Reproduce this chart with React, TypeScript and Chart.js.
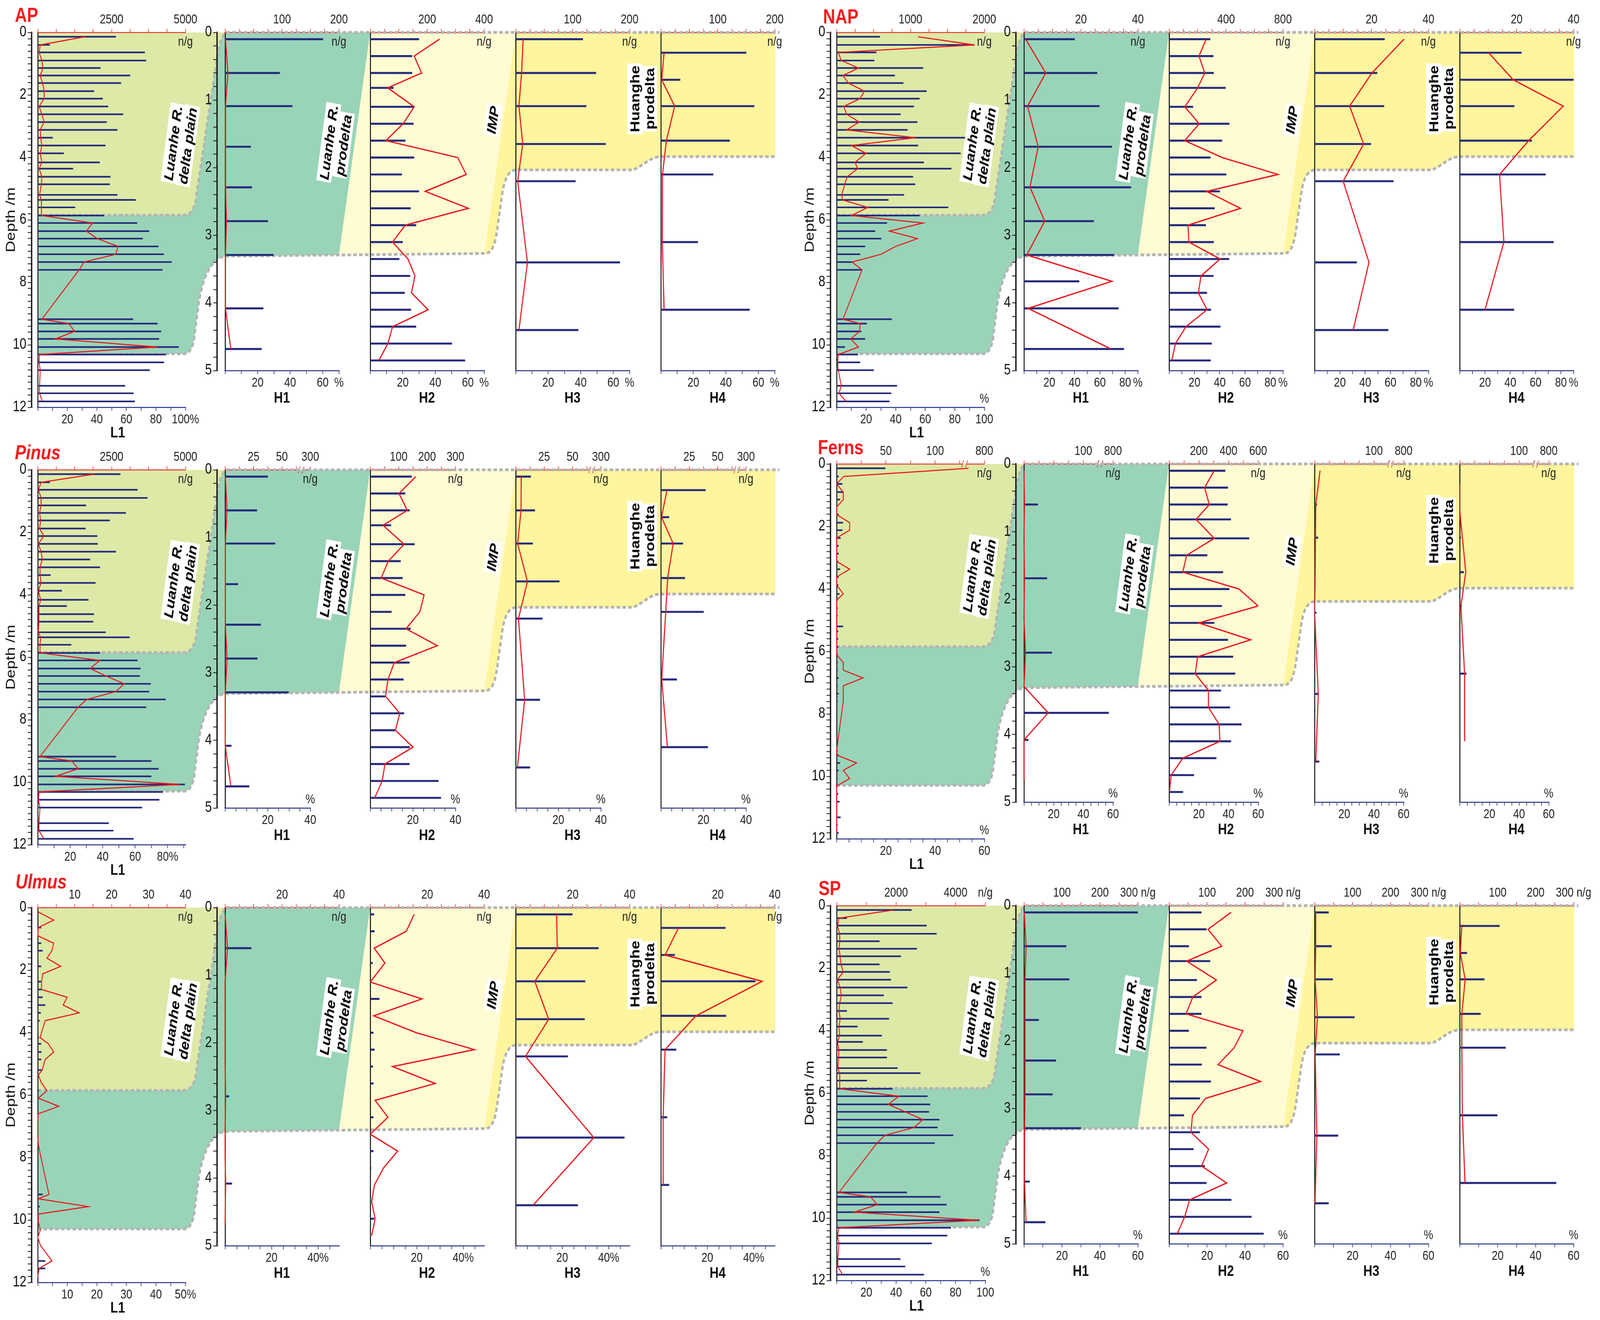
import React, { useEffect, useRef } from 'react';
import { Chart, registerables } from 'chart.js';

Chart.register(...registerables);

const PAGE_W = 4961;
const PAGE_H = 3380;
const NUM_FONT = '"Liberation Sans", Arial, Helvetica, sans-serif';
const TXT_FONT = '"Liberation Sans", Arial, Helvetica, sans-serif';
const NAVY = '#242b7c';
const RED = '#e8171e';
const AXIS_RED = '#e53935';
const AXIS_BLUE = '#2a3187';
const C_PLAIN = '#dde9a7';
const C_GREEN = '#99d4b8';
const C_IMP = '#fffbd3';
const C_YEL = '#fff59e';
const C_DASH = '#b4b4b4';

// ---------------- sample depths (m) ----------------
const depthL1 = [0.14, 0.4, 0.64, 0.9, 1.14, 1.38, 1.62, 1.88, 2.12, 2.37, 2.62, 2.87, 3.12, 3.37, 3.62, 3.87, 4.16, 4.36, 4.62, 4.86, 5.2, 5.36, 5.6, 5.86, 6.1, 6.36, 6.6, 6.85, 7.1, 7.35, 7.6, 9.18, 9.32, 9.57, 9.81, 10.07, 10.31, 10.56, 10.81, 11.31, 11.55, 11.81];
const depthH1 = [0.1, 0.6, 1.09, 1.69, 2.29, 2.79, 3.29, 3.68, 4.08, 4.68];
const depthH2 = [0.1, 0.35, 0.6, 0.82, 1.1, 1.35, 1.6, 1.85, 2.1, 2.35, 2.6, 2.85, 3.1, 3.35, 3.6, 3.85, 4.1, 4.35, 4.6, 4.85];
const depthH3 = [0.1, 0.6, 1.09, 1.65, 2.2, 3.4, 4.4];
const depthH4 = [0.3, 0.7, 1.09, 1.6, 2.1, 3.1, 4.1];

// ---------------- AP ----------------
const apL1Conc = [2642, 406, 3622, 3668, 2121, 3124, 2818, 1907, 2198, 2381, 2887, 2335, 2695, 505, 2289, 881, 2098, 1194, 2458, 2435, 2695, 3315, 1263, 2244, 3361, 3767, 3553, 4081, 4265, 4533, 4219, 3224, 4051, 4173, 4104, 4770, 4334, 4273, 3790, 2956, 3239, 3285];
const apL1Pct = [31.9, 1.7, 0.9, 2.8, 3.5, 1.7, 3.2, 4.4, 4.3, 0.9, 2.8, 4.3, 1.7, 2.0, 2.8, 1.7, 2.8, 0.9, 2.8, 2.5, 1.2, 2.5, 2.5, 2.5, 37.2, 32.9, 40.3, 54.4, 52.8, 31.4, 28.0, 2.8, 21.1, 25.0, 11.9, 80.9, 1.2, 0.9, 1.7, 1.2, 1.2, 3.2];
const apH1Conc = [172, 96, 118, 45, 47, 75, 85, 0, 67, 64];
const apH1Pct = [0.2, 1.7, 0.2, 0.2, 0.3, 0.8, 0.2, 0.2, 0.2, 3.5];
const apH2Conc = [171, 147, 147, 82, 153, 152, 123, 154, 111, 171, 142, 161, 114, 102, 140, 121, 143, 161, 287, 333];
const apH2Pct = [42.6, 27.0, 31.6, 10.8, 27.0, 20.2, 9.6, 53.8, 59.0, 33.8, 60.3, 21.5, 13.7, 23.2, 27.5, 25.3, 35.6, 13.7, 10.8, 5.3];
const apH3Conc = [118, 141, 124, 158, 105, 183, 110];
const apH3Pct = [4.6, 3.6, 2.0, 4.3, 1.2, 7.2, 2.0];
const apH4Conc = [150, 34, 164, 121, 92, 65, 156];
const apH4Pct = [2.0, 0.5, 8.5, 3.4, 1.0, 0.9, 2.0];

// ---------------- NAP ----------------
const napL1Conc = [585, 1865, 537, 511, 1170, 788, 903, 1218, 1122, 1045, 865, 1093, 961, 1743, 1103, 1678, 1180, 1553, 1035, 1064, 913, 701, 1511, 1122, 682, 521, 604, 386, 318, 206, 344, 746, 408, 334, 386, 113, 289, 318, 502, 817, 739, 714];
const napL1Pct = [55.0, 93.2, 1.1, 3.2, 14.8, 4.3, 7.9, 18.8, 15.8, 4.8, 6.8, 15.3, 6.8, 53.4, 10.0, 19.9, 12.4, 14.3, 7.2, 5.5, 3.5, 3.9, 21.2, 10.0, 58.5, 35.7, 54.7, 40.0, 30.1, 10.5, 17.2, 4.3, 15.9, 15.6, 9.5, 14.8, 1.1, 0.6, 1.1, 3.2, 1.6, 6.4];
const napH1Conc = [17.8, 25.7, 26.5, 30.9, 37.6, 24.5, 31.6, 19.4, 33.2, 35.1];
const napH1Pct = [1.3, 17.2, 2.8, 11.2, 4.7, 16.4, 2.2, 69.5, 3.2, 68.8];
const napH2Conc = [288, 311, 313, 397, 168, 423, 372, 290, 401, 356, 319, 258, 313, 421, 311, 266, 294, 360, 299, 292];
const napH2Pct = [29.3, 23.6, 28.2, 22.5, 12.4, 23.8, 12.4, 41.9, 86.1, 29.6, 56.4, 14.9, 15.6, 40.3, 25.2, 23.1, 30.0, 13.3, 5.0, 2.1];
const napH3Conc = [24.6, 22.0, 24.4, 19.8, 27.7, 14.8, 25.9];
const napH3Pct = [70.7, 45.3, 27.7, 38.8, 22.6, 43.0, 30.5];
const napH4Conc = [21.7, 40.0, 19.2, 25.3, 30.2, 33.0, 19.1];
const napH4Pct = [22.8, 42.3, 81.8, 54.5, 31.5, 34.9, 20.0];

// ---------------- Pinus ----------------
const pinusL1Conc = [2795, 406, 3377, 3714, 1631, 2979, 2435, 1616, 2014, 2029, 2642, 1769, 2106, 429, 1953, 812, 1715, 980, 1899, 1876, 2297, 3109, 1133, 2106, 3377, 3476, 3453, 3821, 3767, 4326, 3668, 2642, 3844, 4089, 3844, 4977, 4234, 4112, 3530, 2404, 2557, 3239];
const pinusL1Pct = [34.8, 2.1, 0.4, 2.1, 2.1, 1.1, 1.8, 1.1, 3.8, 0.3, 2.1, 2.8, 1.4, 1.4, 2.1, 0.3, 1.8, 0.7, 0.7, 0.7, 0.3, 1.8, 1.4, 1.4, 38.3, 32.3, 42.1, 53.3, 48.0, 30.2, 24.8, 1.4, 21.0, 25.0, 10.9, 87.7, 0.8, 0.4, 1.4, 0.7, 0.7, 3.8];
const pinusH1Conc = [37.6, 28.0, 44.1, 11.4, 31.4, 28.4, 55.9, 0, 5.5, 21.2];
const pinusH1Pct = [0.1, 0.9, 0.1, 0.1, 0.1, 0.9, 0.1, 0, 0.1, 2.7];
const pinusH2Conc = [146, 123, 139, 73, 156, 107, 114, 123, 75, 142, 126, 138, 117, 52, 119, 87, 139, 138, 240, 249];
const pinusH2Pct = [21.4, 13.5, 17.4, 6.0, 15.9, 8.5, 5.1, 25.3, 23.3, 16.8, 31.5, 11.3, 8.3, 7.2, 13.9, 11.8, 20.1, 6.9, 5.6, 2.1];
const pinusH3Conc = [13.3, 16.9, 15.0, 38.5, 23.5, 21.3, 12.6];
const pinusH3Pct = [2.6, 2.5, 0.9, 5.5, 1.3, 4.2, 0.8];
const pinusH4Conc = [39.4, 7.3, 19.5, 21.2, 37.7, 14.1, 41.4];
const pinusH4Pct = [2.9, 0.3, 5.8, 3.2, 2.3, 0.4, 3.1];

// ---------------- Ferns ----------------
const fernsL1Conc = [49.5, 2, 5.8, 6.5, 3.4, 0.5, 2, 6.5, 5.8, 4, 2, 2, 1.5, 3.4, 2, 1.5, 2.9, 1, 1, 1, 6.5, 1.5, 1.5, 1.5, 1, 1, 1, 2, 1, 2, 1, 1, 2, 3.4, 2, 1, 1, 1.5, 2.9, 4, 1, 2];
const fernsL1Pct = [53.6, 2.9, 0, 2.7, 2.7, 0, 0, 5.3, 5.3, 0, 0, 0, 0, 5.3, 0, 0, 2.7, 0, 0, 0, 0, 0, 0, 0, 0, 2.7, 2.7, 10.7, 2.7, 2.7, 2.7, 0, 0, 8.1, 2.7, 5.3, 0, 0, 0, 0, 0, 0];
const fernsH1Conc = [0, 23.2, 0, 38.8, 0, 47.2, 0, 142.8, 7.2, 0];
const fernsH1Pct = [0, 0.3, 0, 0.3, 0, 1.0, 0, 16.3, 0, 0];
const fernsH2Conc = [378, 396, 394, 416, 539, 257, 363, 406, 355, 304, 396, 431, 445, 349, 410, 488, 417, 318, 167, 94];
const fernsH2Pct = [30.4, 23.9, 27.1, 18.2, 30.4, 11.8, 9.2, 47.1, 60.0, 20.0, 54.9, 19.2, 17.6, 26.5, 26.5, 33.7, 34.3, 9.2, 1.4, 0.2];
const fernsH3Conc = [0, 3.9, 5.9, 1.5, 2.9, 5.9, 7.8];
const fernsH3Pct = [3.7, 0.8, 0.6, 0.4, 0, 2.5, 0.8];
const fernsH4Conc = [0, 0, 2, 6.9, 3.4, 11.3, 0.5];
const fernsH4Pct = [0, 0, 1.8, 4.1, 0.8, 3.3, 3.3];

// ---------------- Ulmus ----------------
const ulmusL1Conc = [0, 0.2, 0.9, 0, 0.9, 1.3, 0, 0.9, 0, 0.9, 0.9, 1.3, 2.0, 0.8, 0.5, 0, 0.3, 0.9, 1.0, 0.9, 1.0, 0.3, 0, 0.3, 0, 0, 0, 0, 0, 0, 0, 1.3, 0, 0.5, 0, 0, 0, 0, 0, 2.0, 2.0, 0];
const ulmusL1Pct = [0.2, 5.4, 0.2, 0, 5.4, 4.8, 3.1, 7.8, 1.7, 1.3, 1.3, 10.0, 8.6, 14.0, 2.5, 1.7, 0.8, 3.6, 5.4, 2.5, 1.5, 0.2, 1.2, 3.1, 0.2, 7.1, 0.2, 0, 0, 0, 0.2, 3.8, 0.2, 17.1, 0.2, 0.2, 0.9, 0, 0.9, 4.8, 0.5, 0];
const ulmusH1Conc = [0, 9.2, 0, 0, 0, 1.4, 0, 0, 2.4, 0];
const ulmusH1Pct = [0, 1.0, 0, 0, 0, 0.2, 0, 0, 0.2, 0];
const ulmusH2Conc = [1.3, 1.5, 0, 0.8, 0, 3.2, 0, 1.1, 1.5, 0.9, 1.1, 0, 1.1, 0, 1.1, 0.3, 0, 0, 1.3, 0];
const ulmusH2Pct = [18.9, 15.5, 1.7, 6.3, 0, 22.2, 1.5, 19.8, 44.8, 9.6, 27.9, 2.1, 7.6, 0, 11.8, 5.7, 1.8, 0.6, 2.1, 0.6];
const ulmusH3Conc = [19.9, 29.1, 24.4, 24.2, 18.3, 38.2, 21.8];
const ulmusH3Pct = [17.6, 17.9, 8.2, 14.2, 4.2, 33.6, 7.5];
const ulmusH4Conc = [22.7, 4.9, 33.2, 22.9, 5.4, 2.2, 2.9];
const ulmusH4Pct = [7.6, 1.8, 43.6, 15.1, 1.8, 1.0, 1.0];

// ---------------- SP ----------------
const spL1Conc = [2520, 344, 3024, 3360, 1440, 2696, 2160, 1440, 1784, 1824, 2376, 1584, 1880, 344, 1760, 704, 1520, 880, 1688, 1688, 2048, 2816, 1016, 1880, 3056, 3144, 3104, 3456, 3392, 3920, 3296, 2360, 3488, 3696, 3456, 4800, 3840, 3720, 3200, 2144, 2304, 2936];
const spL1Pct = [38.2, 1.6, 0.5, 2.1, 2.1, 1.6, 2.4, 2.9, 4.5, 0.5, 2.4, 3.2, 2.1, 1.6, 2.4, 1.6, 2.1, 0.5, 1.6, 1.3, 0.8, 2.1, 2.1, 2.1, 41.9, 34.7, 46.2, 58.1, 52.1, 32.6, 27.1, 1.6, 22.8, 27.4, 11.9, 95.5, 1.6, 0.5, 1.6, 0.8, 0.8, 4.0];
const spH1Conc = [301, 111, 119, 39, 84, 75, 150, 0, 15, 56];
const spH1Pct = [0.1, 1.1, 0.5, 0.5, 0.5, 0.5, 0.3, 0.2, 0.3, 1.1];
const spH2Conc = [85, 98, 52, 108, 73, 85, 85, 52, 98, 86, 110, 81, 39, 81, 64, 94, 98, 164, 217, 249];
const spH2Pct = [32.6, 20.5, 27.7, 9.2, 24.9, 12.5, 8.9, 38.9, 34.3, 25.8, 48.2, 19.2, 12.3, 11.5, 20.8, 17.1, 30.3, 10.8, 8.2, 4.3];
const spH3Conc = [37, 45, 48, 105, 66, 62, 37];
const spH3Pct = [0.6, 0.6, 0.3, 1.5, 0.3, 1.2, 0.2];
const spH4Conc = [105, 19, 65, 55, 121, 99, 254];
const spH4Pct = [1.1, 0.3, 2.9, 1.1, 1.1, 1.4, 2.8];

// ---------------- tick labels [value, text] ----------------
const apL1Top: [number, string][] = [[2500, '2500'], [5000, '5000']];
const apL1Bot: [number, string][] = [[20, '20'], [40, '40'], [60, '60'], [80, '80'], [100, '100%']];
const apH200Top: [number, string][] = [[100, '100'], [200, '200']];
const apH400Top: [number, string][] = [[200, '200'], [400, '400']];
const apHBot: [number, string][] = [[20, '20'], [40, '40'], [60, '60'], [70, '%']];
const napL1Top: [number, string][] = [[1000, '1000'], [2000, '2000']];
const napL1Bot: [number, string][] = [[20, '20'], [40, '40'], [60, '60'], [80, '80'], [100, '100']];
const napH40Top: [number, string][] = [[20, '20'], [40, '40']];
const napH800Top: [number, string][] = [[400, '400'], [800, '800']];
const napHBot: [number, string][] = [[20, '20'], [40, '40'], [60, '60'], [80, '80'], [90, '%']];
const pinusL1Top: [number, string][] = [[2500, '2500'], [5000, '5000']];
const pinusL1Bot: [number, string][] = [[20, '20'], [40, '40'], [60, '60'], [80, '80%']];
const pinusHBrkTop: [number, string][] = [[25, '25'], [50, '50'], [75, '300']];
const pinusH2Top: [number, string][] = [[100, '100'], [200, '200'], [300, '300']];
const pinusHBot: [number, string][] = [[20, '20'], [40, '40']];
const fernsL1Top: [number, string][] = [[50, '50'], [100, '100'], [150, '800']];
const fernsL1Bot: [number, string][] = [[20, '20'], [40, '40'], [60, '60']];
const fernsHBrkTop: [number, string][] = [[100, '100'], [150, '800']];
const fernsH2Top: [number, string][] = [[200, '200'], [400, '400'], [600, '600']];
const fernsHBot: [number, string][] = [[20, '20'], [40, '40'], [60, '60']];
const ulmusL1Top: [number, string][] = [[10, '10'], [20, '20'], [30, '30'], [40, '40']];
const ulmusL1Bot: [number, string][] = [[10, '10'], [20, '20'], [30, '30'], [40, '40'], [50, '50%']];
const ulmusHTop: [number, string][] = [[20, '20'], [40, '40']];
const ulmusHBot: [number, string][] = [[20, '20'], [40, '40%']];
const spL1Top: [number, string][] = [[2000, '2000'], [4000, '4000'], [5000, 'n/g']];
const spL1Bot: [number, string][] = [[20, '20'], [40, '40'], [60, '60'], [80, '80'], [100, '100']];
const spHTop: [number, string][] = [[100, '100'], [200, '200'], [300, '300 n/g']];
const spHBot: [number, string][] = [[20, '20'], [40, '40'], [60, '60']];

// ---------------- layout / configuration ----------------
type Ax = { max: number; step: number; labels: [number, string][]; brk?: number };
type PanelDef = { conc: number[]; pct: number[]; c: Ax; p: Ax; pctAbove?: boolean; ngBelow?: boolean };
type GroupDef = { title: string; italic: boolean; x0: number; y0: number; tdx: number; tby: number; l1W: number; hW: number; panels: PanelDef[] };

const groups: GroupDef[] = [
  {
    title: 'AP', italic: false, x0: 117, y0: 83, tdx: -71, tby: -27, l1W: 458, hW: 353,
    panels: [
      { conc: apL1Conc, pct: apL1Pct, c: { max: 5000, step: 625, labels: apL1Top }, p: { max: 100, step: 10, labels: apL1Bot }, ngBelow: true },
      { conc: apH1Conc, pct: apH1Pct, c: { max: 200, step: 25, labels: apH200Top }, p: { max: 70, step: 10, labels: apHBot }, ngBelow: true },
      { conc: apH2Conc, pct: apH2Pct, c: { max: 400, step: 50, labels: apH400Top }, p: { max: 70, step: 10, labels: apHBot }, ngBelow: true },
      { conc: apH3Conc, pct: apH3Pct, c: { max: 200, step: 25, labels: apH200Top }, p: { max: 70, step: 10, labels: apHBot }, ngBelow: true },
      { conc: apH4Conc, pct: apH4Pct, c: { max: 200, step: 25, labels: apH200Top }, p: { max: 70, step: 10, labels: apHBot }, ngBelow: true },
    ],
  },
  {
    title: 'NAP', italic: false, x0: 2594, y0: 83, tdx: -42, tby: -23, l1W: 458, hW: 353,
    panels: [
      { conc: napL1Conc, pct: napL1Pct, c: { max: 2000, step: 250, labels: napL1Top }, p: { max: 100, step: 10, labels: napL1Bot }, ngBelow: true, pctAbove: true },
      { conc: napH1Conc, pct: napH1Pct, c: { max: 40, step: 5, labels: napH40Top }, p: { max: 90, step: 10, labels: napHBot }, ngBelow: true },
      { conc: napH2Conc, pct: napH2Pct, c: { max: 800, step: 100, labels: napH800Top }, p: { max: 90, step: 10, labels: napHBot }, ngBelow: true },
      { conc: napH3Conc, pct: napH3Pct, c: { max: 40, step: 5, labels: napH40Top }, p: { max: 90, step: 10, labels: napHBot }, ngBelow: true },
      { conc: napH4Conc, pct: napH4Pct, c: { max: 40, step: 5, labels: napH40Top }, p: { max: 90, step: 10, labels: napHBot }, ngBelow: true },
    ],
  },
  {
    title: 'Pinus', italic: true, x0: 117, y0: 1203, tdx: -71, tby: -27, l1W: 458, hW: 264,
    panels: [
      { conc: pinusL1Conc, pct: pinusL1Pct, c: { max: 5000, step: 625, labels: pinusL1Top }, p: { max: 91, step: 10, labels: pinusL1Bot }, ngBelow: true },
      { conc: pinusH1Conc, pct: pinusH1Pct, c: { max: 75, step: 12.5, labels: pinusHBrkTop, brk: 67 }, p: { max: 40, step: 5, labels: pinusHBot }, ngBelow: true, pctAbove: true },
      { conc: pinusH2Conc, pct: pinusH2Pct, c: { max: 300, step: 50, labels: pinusH2Top }, p: { max: 40, step: 5, labels: pinusHBot }, ngBelow: true, pctAbove: true },
      { conc: pinusH3Conc, pct: pinusH3Pct, c: { max: 75, step: 12.5, labels: pinusHBrkTop, brk: 67 }, p: { max: 40, step: 5, labels: pinusHBot }, ngBelow: true, pctAbove: true },
      { conc: pinusH4Conc, pct: pinusH4Pct, c: { max: 75, step: 12.5, labels: pinusHBrkTop, brk: 67 }, p: { max: 40, step: 5, labels: pinusHBot }, ngBelow: true, pctAbove: true },
    ],
  },
  {
    title: 'Ferns', italic: false, x0: 2594, y0: 1188, tdx: -58, tby: -25, l1W: 458, hW: 276,
    panels: [
      { conc: fernsL1Conc, pct: fernsL1Pct, c: { max: 150, step: 25, labels: fernsL1Top, brk: 130 }, p: { max: 60, step: 5, labels: fernsL1Bot }, ngBelow: true, pctAbove: true },
      { conc: fernsH1Conc, pct: fernsH1Pct, c: { max: 150, step: 25, labels: fernsHBrkTop, brk: 128 }, p: { max: 60, step: 5, labels: fernsHBot }, ngBelow: true, pctAbove: true },
      { conc: fernsH2Conc, pct: fernsH2Pct, c: { max: 600, step: 100, labels: fernsH2Top }, p: { max: 60, step: 5, labels: fernsHBot }, ngBelow: true, pctAbove: true },
      { conc: fernsH3Conc, pct: fernsH3Pct, c: { max: 150, step: 25, labels: fernsHBrkTop, brk: 128 }, p: { max: 60, step: 5, labels: fernsHBot }, ngBelow: true, pctAbove: true },
      { conc: fernsH4Conc, pct: fernsH4Pct, c: { max: 150, step: 25, labels: fernsHBrkTop, brk: 128 }, p: { max: 60, step: 5, labels: fernsHBot }, ngBelow: true, pctAbove: true },
    ],
  },
  {
    title: 'Ulmus', italic: true, x0: 117, y0: 2324, tdx: -69, tby: -49, l1W: 458, hW: 353,
    panels: [
      { conc: ulmusL1Conc, pct: ulmusL1Pct, c: { max: 40, step: 5, labels: ulmusL1Top }, p: { max: 50, step: 5, labels: ulmusL1Bot }, ngBelow: true },
      { conc: ulmusH1Conc, pct: ulmusH1Pct, c: { max: 40, step: 5, labels: ulmusHTop }, p: { max: 49, step: 5, labels: ulmusHBot }, ngBelow: true },
      { conc: ulmusH2Conc, pct: ulmusH2Pct, c: { max: 40, step: 5, labels: ulmusHTop }, p: { max: 49, step: 5, labels: ulmusHBot }, ngBelow: true },
      { conc: ulmusH3Conc, pct: ulmusH3Pct, c: { max: 40, step: 5, labels: ulmusHTop }, p: { max: 49, step: 5, labels: ulmusHBot }, ngBelow: true },
      { conc: ulmusH4Conc, pct: ulmusH4Pct, c: { max: 40, step: 5, labels: ulmusHTop }, p: { max: 49, step: 5, labels: ulmusHBot }, ngBelow: true },
    ],
  },
  {
    title: 'SP', italic: false, x0: 2594, y0: 2319, tdx: -56, tby: -27, l1W: 461, hW: 353,
    panels: [
      { conc: spL1Conc, pct: spL1Pct, c: { max: 5000, step: 1000, labels: spL1Top }, p: { max: 100, step: 10, labels: spL1Bot }, pctAbove: true },
      { conc: spH1Conc, pct: spH1Pct, c: { max: 300, step: 50, labels: spHTop }, p: { max: 60, step: 10, labels: spHBot }, pctAbove: true },
      { conc: spH2Conc, pct: spH2Pct, c: { max: 300, step: 50, labels: spHTop }, p: { max: 60, step: 10, labels: spHBot }, pctAbove: true },
      { conc: spH3Conc, pct: spH3Pct, c: { max: 300, step: 50, labels: spHTop }, p: { max: 60, step: 10, labels: spHBot }, pctAbove: true },
      { conc: spH4Conc, pct: spH4Pct, c: { max: 300, step: 50, labels: spHTop }, p: { max: 60, step: 10, labels: spHBot }, pctAbove: true },
    ],
  },
];

const KINDS = [
  { name: 'L1', depths: depthL1, dMax: 12, dMajor: 2, areaH: 960, zero: 0, gap: 19 },
  { name: 'H1', depths: depthH1, dMax: 5, dMajor: 1, areaH: 866, zero: 581, gap: 25 },
  { name: 'H2', depths: depthH2, dMax: 5, dMajor: 1, areaH: 866, zero: 1031, gap: 0 },
  { name: 'H3', depths: depthH3, dMax: 5, dMajor: 1, areaH: 866, zero: 1482, gap: 0 },
  { name: 'H4', depths: depthH4, dMax: 5, dMajor: 1, areaH: 866, zero: 1932, gap: 0 },
];

const TOP_H = 54;
const BOT_H = 54;
const PAD_R = 80;

type Sub = {
  key: string; depths: number[]; conc: number[]; pct: number[]; dMax: number; dMajor: number;
  c: Ax; p: Ax; gap: number; plotW: number; areaH: number; hasY: boolean; yW: number; padL: number;
  cx: number; cy: number; cw: number; ch: number; lineW: number; barW: number;
};

const subs: Sub[] = [];
groups.forEach((g) => {
  g.panels.forEach((p, k) => {
    const K = KINDS[k];
    const plotW = k === 0 ? g.l1W : g.hW;
    const hasY = K.gap > 0;
    const yW = hasY ? 70 : 0;
    const padL = hasY ? 30 : 15;
    const areaLeft = Math.round(g.x0 + K.zero - K.gap);
    subs.push({
      key: g.title + K.name, depths: K.depths, conc: p.conc, pct: p.pct, dMax: K.dMax, dMajor: K.dMajor,
      c: p.c, p: p.p, gap: K.gap, plotW, areaH: K.areaH, hasY, yW, padL,
      cx: areaLeft - yW - padL, cy: g.y0 - TOP_H, cw: padL + yW + K.gap + plotW + PAD_R, ch: TOP_H + K.areaH + BOT_H,
      lineW: k === 0 ? 2.8 : 3.4, barW: k === 0 ? 3.5 : 4.5,
    });
  });
});

function tickList(max: number, step: number, labels: [number, string][]) {
  const vals: number[] = [];
  const n = Math.floor(max / step + 1e-6);
  for (let i = 0; i <= n; i++) vals.push(Math.round(i * step * 1000) / 1000);
  labels.forEach(([v]) => { if (!vals.some((x) => Math.abs(x - v) < 1e-6)) vals.push(v); });
  vals.sort((a, b) => a - b);
  return vals.map((value) => ({ value }));
}
function labelFor(labels: [number, string][], v: number) {
  const f = labels.find(([lv]) => Math.abs(lv - v) < 1e-6);
  return f ? f[1] : '';
}

const panelFix = {
  id: 'panelfix',
  afterDraw(chart: any, _args: any, opts: any) {
    const ctx = chart.ctx;
    const area = chart.chartArea;
    const xc = chart.scales.xc;
    if (opts && opts.gap) {
      const zx = xc.getPixelForValue(0);
      const w = zx - area.left - 5;
      if (w > 0) {
        ctx.clearRect(area.left + 3, area.top - 3, w, 6);
        ctx.clearRect(area.left + 3, area.bottom - 3, w, 6);
      }
    }
    if (opts && opts.brk != null) {
      const x = xc.getPixelForValue(opts.brk);
      const y = area.top;
      ctx.save();
      ctx.clearRect(x - 5, y - 3, 10, 6);
      ctx.strokeStyle = AXIS_RED;
      ctx.lineWidth = 2;
      ctx.beginPath();
      ctx.moveTo(x - 9, y + 9); ctx.lineTo(x - 3, y - 9);
      ctx.moveTo(x + 3, y + 9); ctx.lineTo(x + 9, y - 9);
      ctx.stroke();
      ctx.restore();
    }
  },
};

function makeConfig(s: Sub): any {
  const cMin = s.gap ? (-s.c.max * s.gap) / s.plotW : 0;
  const pMin = s.gap ? (-s.p.max * s.gap) / s.plotW : 0;
  return {
    type: 'bar',
    data: {
      datasets: [
        {
          type: 'bar', label: 'n/g', data: s.depths.map((d, i) => ({ x: s.conc[i], y: d })),
          xAxisID: 'xc', yAxisID: 'y', indexAxis: 'y', backgroundColor: NAVY, borderWidth: 0,
          barThickness: s.barW, order: 2,
        },
        {
          type: 'line', label: '%', data: s.depths.map((d, i) => ({ x: s.pct[i], y: d })),
          xAxisID: 'xp', yAxisID: 'y', indexAxis: 'y', borderColor: RED, backgroundColor: RED,
          borderWidth: s.lineW, pointRadius: 0, tension: 0, fill: false, order: 1,
        },
      ],
    },
    options: {
      responsive: false, maintainAspectRatio: false, animation: false, events: [], indexAxis: 'y',
      layout: { padding: { left: s.padL, right: PAD_R, top: 0, bottom: 0 } },
      plugins: { legend: { display: false }, tooltip: { enabled: false }, panelfix: { gap: s.gap > 0, brk: s.c.brk } },
      scales: {
        y: {
          type: 'linear', position: 'left', reverse: true, min: 0, max: s.dMax, offset: false, display: s.hasY,
          afterBuildTicks: (sc: any) => {
            const t: any[] = [];
            const n = Math.round(s.dMax / 0.2);
            for (let i = 0; i <= n; i++) t.push({ value: Math.round(i * 0.2 * 1000) / 1000 });
            sc.ticks = t;
          },
          afterFit: (sc: any) => { sc.width = s.yW; sc.paddingTop = 0; sc.paddingBottom = 0; },
          ticks: {
            autoSkip: false, padding: 4, color: '#111', font: { size: 38, family: NUM_FONT },
            callback: (v: number) => {
              const r = v / s.dMajor;
              return Math.abs(r - Math.round(r)) < 1e-6 ? String(Math.round(v)) : '';
            },
          },
          grid: { drawOnChartArea: false, offset: false, tickLength: 12, tickWidth: 2, tickColor: '#111' },
          border: { display: true, color: '#111', width: 4 },
        },
        xc: {
          type: 'linear', position: 'top', min: cMin, max: s.c.max, beginAtZero: false,
          afterBuildTicks: (sc: any) => { sc.ticks = tickList(s.c.max, s.c.step, s.c.labels); },
          afterFit: (sc: any) => { sc.height = TOP_H; sc.paddingLeft = 0; sc.paddingRight = 0; },
          ticks: {
            autoSkip: false, maxRotation: 0, minRotation: 0, padding: 3, color: '#222',
            font: { size: 33, family: NUM_FONT }, callback: (v: number) => labelFor(s.c.labels, v),
          },
          grid: { drawOnChartArea: false, tickLength: 9, tickWidth: 2, tickColor: AXIS_RED },
          border: { display: true, color: AXIS_RED, width: 2.5 },
        },
        xp: {
          type: 'linear', position: 'bottom', min: pMin, max: s.p.max, beginAtZero: false,
          afterBuildTicks: (sc: any) => { sc.ticks = tickList(s.p.max, s.p.step, s.p.labels); },
          afterFit: (sc: any) => { sc.height = BOT_H; sc.paddingLeft = 0; sc.paddingRight = 0; },
          ticks: {
            autoSkip: false, maxRotation: 0, minRotation: 0, padding: 3, color: '#222',
            font: { size: 33, family: NUM_FONT }, callback: (v: number) => labelFor(s.p.labels, v),
          },
          grid: {
            drawOnChartArea: true,
            color: (ctx: any) => (ctx.tick && Math.abs(ctx.tick.value) < 1e-9 ? '#111' : 'rgba(0,0,0,0)'),
            lineWidth: (ctx: any) => (ctx.tick && Math.abs(ctx.tick.value) < 1e-9 ? 3 : 1),
            tickLength: 9, tickWidth: 2, tickColor: AXIS_BLUE,
          },
          border: { display: true, color: AXIS_BLUE, width: 2.5 },
        },
      },
    },
    plugins: [panelFix],
  };
}

function SubChart({ s }: { s: Sub }) {
  const ref = useRef<HTMLCanvasElement>(null);
  useEffect(() => {
    const chart = new Chart(ref.current as HTMLCanvasElement, makeConfig(s));
    return () => chart.destroy();
  }, [s]);
  return (
    <canvas
      ref={ref}
      width={s.cw}
      height={s.ch}
      style={{ position: 'absolute', left: s.cx, top: s.cy, width: s.cw, height: s.ch }}
    />
  );
}

// ---------------- background regions (relative to group origin) ----------------
function upperPath(ctx: CanvasRenderingContext2D) {
  ctx.lineTo(452, 468);
  ctx.quadraticCurveTo(488, 468, 493, 410);
  ctx.lineTo(557, 60);
  ctx.quadraticCurveTo(568, 0, 590, 0);
}
function lowerLeftPath(ctx: CanvasRenderingContext2D) {
  ctx.lineTo(452, 823);
  ctx.quadraticCurveTo(482, 823, 487, 770);
  ctx.lineTo(498, 700);
  ctx.bezierCurveTo(506, 650, 530, 575, 585, 573);
}
function lowerRightPath(ctx: CanvasRenderingContext2D) {
  ctx.lineTo(1387, 566);
  ctx.bezierCurveTo(1410, 566, 1420, 540, 1427, 490);
  ctx.lineTo(1440, 415);
  ctx.bezierCurveTo(1448, 370, 1462, 352, 1485, 352);
  ctx.lineTo(1840, 352);
  ctx.bezierCurveTo(1865, 352, 1895, 318, 1932, 318);
  ctx.lineTo(2287, 318);
}

function drawBackground(ctx: CanvasRenderingContext2D) {
  groups.forEach((g) => {
    ctx.save();
    ctx.translate(g.x0, g.y0);
    ctx.fillStyle = C_PLAIN;
    ctx.beginPath(); ctx.moveTo(0, 0); ctx.lineTo(0, 468); upperPath(ctx); ctx.closePath(); ctx.fill();
    ctx.fillStyle = C_GREEN;
    ctx.beginPath(); ctx.moveTo(0, 468); upperPath(ctx);
    ctx.lineTo(1031, 0); ctx.lineTo(934, 570); ctx.lineTo(585, 573);
    ctx.bezierCurveTo(530, 575, 506, 650, 498, 700);
    ctx.lineTo(487, 770); ctx.quadraticCurveTo(482, 823, 452, 823); ctx.lineTo(0, 823);
    ctx.closePath(); ctx.fill();
    ctx.fillStyle = C_IMP;
    ctx.beginPath(); ctx.moveTo(1031, 0); ctx.lineTo(1482, 0); ctx.lineTo(1385, 566); ctx.lineTo(934, 570); ctx.closePath(); ctx.fill();
    ctx.fillStyle = C_YEL;
    ctx.beginPath(); ctx.moveTo(1482, 0); ctx.lineTo(2287, 0); ctx.lineTo(2287, 318); ctx.lineTo(1932, 318);
    ctx.bezierCurveTo(1895, 318, 1865, 352, 1840, 352); ctx.lineTo(1485, 352);
    ctx.bezierCurveTo(1462, 352, 1448, 370, 1440, 415); ctx.lineTo(1427, 490);
    ctx.bezierCurveTo(1420, 540, 1410, 566, 1387, 566); ctx.lineTo(1385, 566);
    ctx.closePath(); ctx.fill();
    ctx.strokeStyle = C_DASH; ctx.lineWidth = 7; ctx.setLineDash([11, 7]);
    ctx.beginPath(); ctx.moveTo(0, 468); upperPath(ctx); ctx.stroke();
    ctx.beginPath(); ctx.moveTo(0, 823); lowerLeftPath(ctx); lowerRightPath(ctx); ctx.stroke();
    ctx.restore();
  });
}
function drawForeground(ctx: CanvasRenderingContext2D) {
  groups.forEach((g) => {
    ctx.save();
    ctx.translate(g.x0, g.y0);
    ctx.strokeStyle = C_DASH; ctx.lineWidth = 7; ctx.setLineDash([11, 7]);
    ctx.beginPath(); ctx.moveTo(585, 0); ctx.lineTo(2300, 0); ctx.stroke();
    ctx.restore();
  });
}

function RegionLabel({ x, y, lines, italic, rot }: { x: number; y: number; lines: string[]; italic: boolean; rot: number }) {
  return (
    <div
      style={{
        position: 'absolute', left: x, top: y, transform: `translate(-50%, -50%) rotate(${rot}deg)`,
        display: 'flex', flexDirection: 'column', alignItems: 'center', whiteSpace: 'nowrap',
        fontFamily: TXT_FONT, fontWeight: 'bold', fontStyle: italic ? 'italic' : 'normal', fontSize: 40,
        lineHeight: '46px', color: '#000',
      }}
    >
      {lines.map((l) => (
        <span key={l} style={{ background: '#fff', padding: '0 5px' }}>{l}</span>
      ))}
    </div>
  );
}

export default function App() {
  const bgRef = useRef<HTMLCanvasElement>(null);
  const fgRef = useRef<HTMLCanvasElement>(null);
  useEffect(() => {
    const b = bgRef.current?.getContext('2d');
    if (b) { b.clearRect(0, 0, PAGE_W, PAGE_H); drawBackground(b); }
    const f = fgRef.current?.getContext('2d');
    if (f) { f.clearRect(0, 0, PAGE_W, PAGE_H); drawForeground(f); }
  }, []);

  const vw = typeof window !== 'undefined' && window.innerWidth ? window.innerWidth : PAGE_W;
  const vh = typeof window !== 'undefined' && window.innerHeight ? window.innerHeight : PAGE_H;
  const sx = Math.min(1, vw / PAGE_W);
  const sy = Math.min(1, vh / PAGE_H);

  const labels: any[] = [];
  groups.forEach((g) => {
    const t = g.title;
    labels.push(
      <div key={t + 'title'} style={{
        position: 'absolute', left: g.x0 + g.tdx, top: g.y0 + g.tby - 44, fontFamily: TXT_FONT, fontWeight: 'bold',
        fontStyle: g.italic ? 'italic' : 'normal', fontSize: 52, lineHeight: '52px', color: '#f51b1f', whiteSpace: 'nowrap',
      }}>{t}</div>
    );
    labels.push(
      <div key={t + 'depth'} style={{
        position: 'absolute', left: g.x0 - 85, top: g.y0 + 480, transform: 'translate(-50%, -50%) rotate(-90deg)',
        fontFamily: TXT_FONT, fontSize: 41, lineHeight: '41px', color: '#111', whiteSpace: 'nowrap',
      }}>Depth /m</div>
    );
    KINDS.forEach((K, k) => {
      const isL = k === 0;
      const cxl = isL ? g.x0 + 248 : g.x0 + K.zero + 176;
      const cyl = isL ? g.y0 + 1023 : g.y0 + 934;
      labels.push(
        <div key={t + K.name + 'lab'} style={{
          position: 'absolute', left: cxl, top: cyl, transform: 'translate(-50%, -50%)', fontFamily: TXT_FONT,
          fontWeight: 'bold', fontSize: 39, lineHeight: '39px', color: '#111', whiteSpace: 'nowrap',
        }}>{K.name}</div>
      );
      const p = g.panels[k];
      const plotW = isL ? g.l1W : g.hW;
      const endX = g.x0 + K.zero + plotW;
      if (p.ngBelow) {
        labels.push(
          <div key={t + K.name + 'ng'} style={{
            position: 'absolute', left: endX, top: g.y0 + 6, transform: 'translateX(-50%)', fontFamily: NUM_FONT,
            fontSize: 33, lineHeight: '33px', color: '#222', whiteSpace: 'nowrap',
          }}>n/g</div>
        );
      }
      if (p.pctAbove) {
        labels.push(
          <div key={t + K.name + 'pc'} style={{
            position: 'absolute', left: endX, top: g.y0 + K.areaH - 40, transform: 'translateX(-50%)', fontFamily: NUM_FONT,
            fontSize: 33, lineHeight: '33px', color: '#222', whiteSpace: 'nowrap',
          }}>%</div>
        );
      }
    });
    labels.push(<RegionLabel key={t + 'r1'} x={g.x0 + 442} y={g.y0 + 287} lines={['Luanhe R.', 'delta plain']} italic rot={-81} />);
    labels.push(<RegionLabel key={t + 'r2'} x={g.x0 + 925} y={g.y0 + 285} lines={['Luanhe R.', 'prodelta']} italic rot={-81} />);
    labels.push(<RegionLabel key={t + 'r3'} x={g.x0 + 1411} y={g.y0 + 224} lines={['IMP']} italic rot={-80} />);
    labels.push(<RegionLabel key={t + 'r4'} x={g.x0 + 1874} y={g.y0 + 170} lines={['Huanghe', 'prodelta']} italic={false} rot={-90} />);
  });

  return (
    <div style={{
      position: 'fixed', left: 0, top: 0, width: PAGE_W, height: PAGE_H, background: '#fff', overflow: 'hidden',
      transform: `scale(${sx}, ${sy})`, transformOrigin: '0 0',
    }}>
      <canvas ref={bgRef} width={PAGE_W} height={PAGE_H} style={{ position: 'absolute', left: 0, top: 0, width: PAGE_W, height: PAGE_H }} />
      {subs.map((s) => <SubChart key={s.key} s={s} />)}
      <canvas ref={fgRef} width={PAGE_W} height={PAGE_H} style={{ position: 'absolute', left: 0, top: 0, width: PAGE_W, height: PAGE_H, pointerEvents: 'none' }} />
      {labels}
    </div>
  );
}
